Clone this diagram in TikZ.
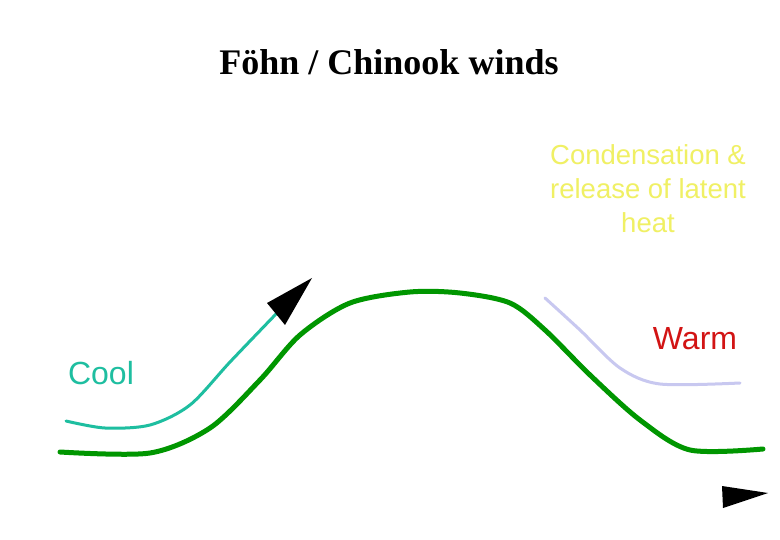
\documentclass[tikz,border=0pt]{standalone}
\usepackage{fontspec}
\setmainfont{Liberation Serif}
\setsansfont{Liberation Sans}
\begin{document}
\begin{tikzpicture}[x=1pt,y=-1pt,
  lbl/.style={font=\sffamily\fontsize{32}{34}\selectfont,inner sep=0pt,align=center},
  flow/.style={line width=3pt,line cap=round}]
\useasboundingbox (0,0) rectangle (780,540);
\fill[white] (0,0) rectangle (780,540);
\node[font=\bfseries\fontsize{36}{40}\selectfont] (title) at (389,62) {Föhn / Chinook winds};
\draw[line width=5pt,color={rgb,255:red,0;green,150;blue,0},line cap=round]
  plot[smooth,tension=0.5] coordinates {(60,452) (150,453) (210,428) (260,380) (300,335) (350,303) (410,292) (460,293) (510,303) (545,330) (590,375) (640,420) (690,450) (763,449)};
\draw[flow,color={rgb,255:red,30;green,190;blue,160}]
  plot[smooth,tension=0.5] coordinates {(66,421) (105,428) (150,425) (190,405) (230,362) (276,314)};
\fill[black] (267,303) -- (312,278) -- (285,325) -- cycle;
\draw[flow,color={rgb,255:red,200;green,200;blue,240}]
  plot[smooth,tension=0.5] coordinates {(545,298) (580,330) (620,368) (660,384) (740,383)};
\fill[black] (722,486) -- (768,493) -- (723,508) -- cycle;
\node[lbl,text={rgb,255:red,30;green,190;blue,160}] (cool) at (101,373) {Cool};
\node[lbl,text={rgb,255:red,210;green,20;blue,20}] (warm) at (695,339) {Warm};
\node[lbl,font=\sffamily\fontsize{27.5}{34}\selectfont,text={rgb,255:red,240;green,240;blue,100}] (cond) at (648,189) {Condensation \&\\release of latent\\heat};
\end{tikzpicture}
\end{document}
